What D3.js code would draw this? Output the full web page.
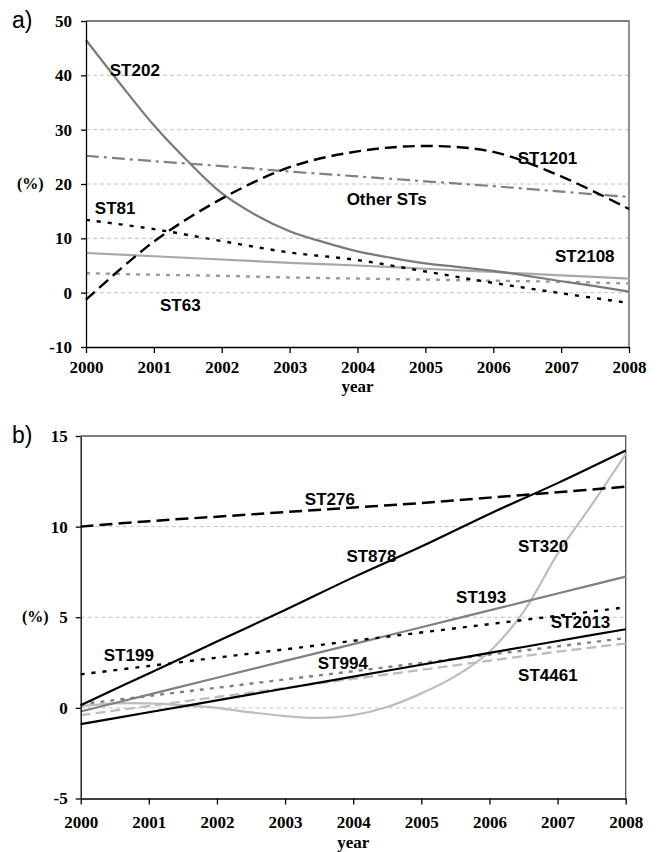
<!DOCTYPE html>
<html>
<head>
<meta charset="utf-8">
<script src="https://cdn.jsdelivr.net/npm/d3@7/dist/d3.min.js"></script>
<style>
  body { margin: 0; background: #fff; }
  svg { display: block; }
</style>
</head>
<body>
<svg id="chart" width="660" height="852"></svg>
<script>
const SERIF = "'Liberation Serif', 'Times New Roman', serif";
const SANS = "'Liberation Sans', Arial, sans-serif";

const YEARS = [2000, 2001, 2002, 2003, 2004, 2005, 2006, 2007, 2008];
const HALF_YEARS = [2000, 2000.5, 2001, 2001.5, 2002, 2002.5, 2003, 2003.5, 2004,
  2004.5, 2005, 2005.5, 2006, 2006.5, 2007, 2007.5, 2008];

// panel a) values (%)
const ST202 = [46.5, 38.5, 30.8, 24.2, 18.3, 14.3, 11.3, 9.3, 7.6, 6.4, 5.4, 4.7, 4.0, 3.1, 2.1, 1.2, 0.2];
const OTHER_STS = [25.2, 24.2, 23.3, 22.3, 21.4, 20.5, 19.6, 18.6, 17.6];
const ST1201 = [-1.3, 9.4, 17.3, 23.1, 26.0, 27.0, 25.9, 21.4, 15.4];
const ST81 = [13.4, 11.7, 9.5, 7.4, 6.0, 3.9, 1.8, -0.1, -1.9];
const ST2108 = [7.3, 6.7, 6.1, 5.5, 5.0, 4.4, 3.8, 3.2, 2.6];
const ST63 = [3.6, 3.3, 3.1, 2.8, 2.6, 2.4, 2.2, 2.0, 1.7];

// panel b) values (%)
const ST276 = [10.0, 10.3, 10.55, 10.8, 11.05, 11.3, 11.6, 11.9, 12.2];
const ST878 = [0.15, 1.9, 3.66, 5.4, 7.2, 8.9, 10.7, 12.4, 14.2];
const ST320 = [0.1, 0.25, 0.25, 0.15, 0.0, -0.25, -0.45, -0.55, -0.4, 0.05, 0.8, 1.75, 3.1, 5.3, 8.5, 11.2, 14.0];
const ST193 = [-0.2, 0.73, 1.66, 2.59, 3.52, 4.45, 5.38, 6.31, 7.24];
const ST199 = [1.85, 2.31, 2.77, 3.23, 3.7, 4.16, 4.62, 5.08, 5.55];
const ST2013 = [-0.9, -0.24, 0.41, 1.07, 1.72, 2.38, 3.03, 3.69, 4.34];
const ST994 = [0.2, 0.66, 1.11, 1.57, 2.02, 2.48, 2.94, 3.39, 3.85];
const ST4461 = [-0.4, 0.1, 0.6, 1.1, 1.6, 2.1, 2.6, 3.1, 3.55];

const TICKS_A = [-10, 0, 10, 20, 30, 40, 50];
const TICKS_B = [-5, 0, 5, 10, 15];

const PANELS = [
  {
    letter: "a)", letterY: 28,
    left: 86, right: 629, top: 21, bottom: 347,
    yDomain: [-10, 50], yTicks: TICKS_A, yPad: 9, xPad: 8, yearY: 392,
    unitAt: 20, unitX: 17,
    series: [
      { name: "Other STs", x: YEARS, values: OTHER_STS, color: "#808080", width: 2.2, dash: "13,5,3,5" },
      { name: "ST63", x: YEARS, values: ST63, color: "#9a9a9a", width: 2.4, dash: "4,6" },
      { name: "ST2108", x: YEARS, values: ST2108, color: "#a8a8a8", width: 2.2 },
      { name: "ST81", x: YEARS, values: ST81, color: "#000", width: 2.4, dash: "4,7" },
      { name: "ST202", x: HALF_YEARS, values: ST202, color: "#7a7a7a", width: 2.2 },
      { name: "ST1201", x: YEARS, values: ST1201, color: "#000", width: 2.4, dash: "12,6" }
    ],
    labels: [
      { text: "ST202", year: 2000.35, value: 39.9 },
      { text: "ST1201", year: 2006.36, value: 23.7 },
      { text: "Other STs", year: 2003.84, value: 16.1 },
      { text: "ST81", year: 2000.13, value: 14.5 },
      { text: "ST2108", year: 2006.91, value: 5.6 },
      { text: "ST63", year: 2001.09, value: -3.4 }
    ]
  },
  {
    letter: "b)", letterY: 443,
    left: 80.7, right: 625.7, top: 436, bottom: 798.5,
    yDomain: [-5, 15], yTicks: TICKS_B, yPad: 8, xPad: 11, yearY: 848,
    unitAt: 5, unitX: 22,
    series: [
      { name: "ST4461", x: YEARS, values: ST4461, color: "#bdbdbd", width: 2.3, dash: "10,5" },
      { name: "ST994", x: YEARS, values: ST994, color: "#808080", width: 2.4, dash: "4,6" },
      { name: "ST320", x: HALF_YEARS, values: ST320, color: "#bdbdbd", width: 2.2 },
      { name: "ST193", x: YEARS, values: ST193, color: "#808080", width: 2.2 },
      { name: "ST199", x: YEARS, values: ST199, color: "#000", width: 2.4, dash: "4,7" },
      { name: "ST2013", x: YEARS, values: ST2013, color: "#000", width: 2.2 },
      { name: "ST878", x: YEARS, values: ST878, color: "#000", width: 2.2 },
      { name: "ST276", x: YEARS, values: ST276, color: "#000", width: 2.5, dash: "13,6" }
    ],
    labels: [
      { text: "ST276", year: 2003.29, value: 11.19 },
      { text: "ST878", year: 2003.9, value: 8.05 },
      { text: "ST320", year: 2006.42, value: 8.6 },
      { text: "ST193", year: 2005.51, value: 5.79 },
      { text: "ST2013", year: 2006.9, value: 4.38 },
      { text: "ST199", year: 2000.34, value: 2.59 },
      { text: "ST994", year: 2003.48, value: 2.12 },
      { text: "ST4461", year: 2006.42, value: 1.49 }
    ]
  }
];

function drawPanel(svg, panel) {
  const x = d3.scaleLinear().domain([2000, 2008]).range([panel.left, panel.right]);
  const y = d3.scaleLinear().domain(panel.yDomain).range([panel.bottom, panel.top]);
  const g = svg.append("g");

  // dashed horizontal gridlines (inner ticks only)
  g.selectAll("line.grid")
    .data(panel.yTicks.filter(v => v > panel.yDomain[0] && v < panel.yDomain[1]))
    .join("line")
    .attr("class", "grid")
    .attr("x1", panel.left).attr("x2", panel.right)
    .attr("y1", d => y(d)).attr("y2", d => y(d))
    .attr("stroke", "#c2c2c2")
    .attr("stroke-dasharray", "4,3");

  // top + right frame
  g.append("path")
    .attr("d", `M${panel.left},${panel.top}H${panel.right}V${panel.bottom}`)
    .attr("fill", "none")
    .attr("stroke", "#555")
    .attr("stroke-width", 1.3);

  const line = d3.line()
    .x(d => x(d[0]))
    .y(d => y(d[1]))
    .curve(d3.curveCatmullRom.alpha(0.5));

  panel.series.forEach(s => {
    g.append("path")
      .datum(d3.zip(s.x, s.values))
      .attr("d", line)
      .attr("fill", "none")
      .attr("stroke", s.color)
      .attr("stroke-width", s.width)
      .attr("stroke-dasharray", s.dash || null);
  });

  const yAxis = g.append("g")
    .attr("transform", `translate(${panel.left},0)`)
    .call(d3.axisLeft(y).tickValues(panel.yTicks).tickFormat(d => String(d))
      .tickSize(5).tickSizeOuter(0).tickPadding(panel.yPad));
  const xAxis = g.append("g")
    .attr("transform", `translate(0,${panel.bottom})`)
    .call(d3.axisBottom(x).tickValues(YEARS).tickFormat(d => String(d))
      .tickSize(6).tickSizeOuter(0).tickPadding(panel.xPad));

  [yAxis, xAxis].forEach(ax => {
    ax.selectAll("path, line").attr("stroke", "#000").attr("stroke-width", 1.3);
    ax.selectAll("text")
      .attr("fill", "#000")
      .style("font-family", SERIF)
      .style("font-size", "17px")
      .style("font-weight", "bold");
  });

  g.append("text")
    .attr("x", x(2004)).attr("y", panel.yearY)
    .attr("text-anchor", "middle")
    .style("font-family", SERIF).style("font-size", "17px").style("font-weight", "bold")
    .text("year");

  g.append("text")
    .attr("x", panel.unitX).attr("y", y(panel.unitAt)).attr("dy", "0.32em")
    .style("font-family", SERIF).style("font-size", "16px").style("font-weight", "bold")
    .text("(%)");

  g.append("text")
    .attr("x", 12).attr("y", panel.letterY)
    .style("font-family", SANS).style("font-size", "23px")
    .text(panel.letter);

  g.selectAll("text.series")
    .data(panel.labels)
    .join("text")
    .attr("class", "series")
    .attr("x", d => x(d.year))
    .attr("y", d => y(d.value))
    .style("font-family", SANS).style("font-size", "17px").style("font-weight", "bold")
    .text(d => d.text);
}

const svg = d3.select("#chart");
PANELS.forEach(p => drawPanel(svg, p));
</script>
</body>
</html>
